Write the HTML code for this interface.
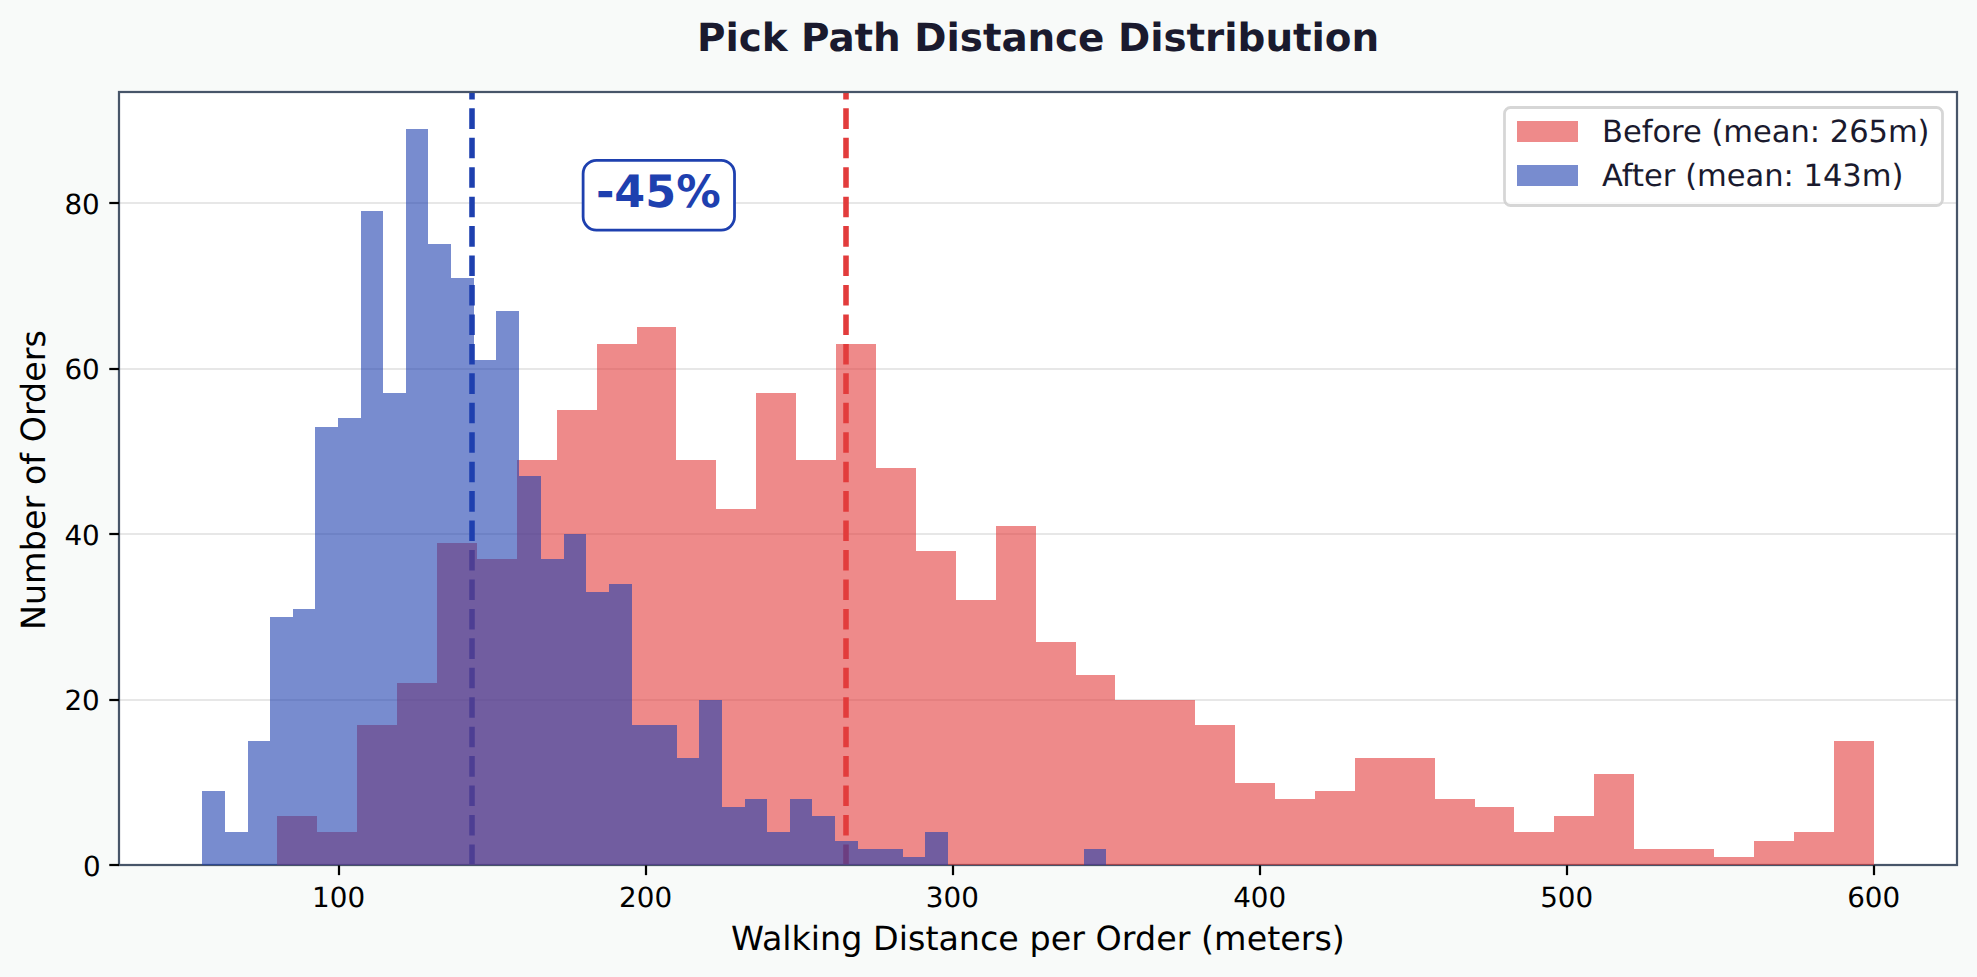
<!DOCTYPE html>
<html lang="en"><head><meta charset="utf-8"><title>Pick Path Distance Distribution</title>
<style>
html,body{margin:0;padding:0;background:#f8faf9;}
body{width:1977px;height:977px;overflow:hidden;}
svg{display:block;font-family:"DejaVu Sans","Liberation Sans",sans-serif;}
text{font-kerning:normal;text-rendering:geometricPrecision;}
</style></head><body>
<svg width="1977" height="977" viewBox="0 0 1977 977">
<rect x="0" y="0" width="1977" height="977" fill="#f8faf9"/>
<rect x="119.0" y="92.0" width="1838.0" height="773.0" fill="#ffffff"/>
<defs><clipPath id="ax"><rect x="119.0" y="92.0" width="1838.0" height="773.0"/></clipPath></defs>

<g stroke="#b0b0b0" stroke-opacity="0.3" stroke-width="2.22">
<line x1="119.0" x2="1957.0" y1="865" y2="865"/>
<line x1="119.0" x2="1957.0" y1="700" y2="700"/>
<line x1="119.0" x2="1957.0" y1="534" y2="534"/>
<line x1="119.0" x2="1957.0" y1="369" y2="369"/>
<line x1="119.0" x2="1957.0" y1="203" y2="203"/>
</g>
<g clip-path="url(#ax)" stroke-width="5.56" stroke-dasharray="20.5556 8.8889" fill="none">
<line x1="472" x2="472" y1="865" y2="82.0" stroke="#1e40af"/>
<line x1="846" x2="846" y1="865" y2="82.0" stroke="#e23c3c"/>
</g>
<rect x="119.0" y="92.0" width="1838.0" height="773.0" fill="none" stroke="#475569" stroke-width="2.22"/>
<path d="M277,865V816H317V832H357V725H397V683H437V543H477V559H517V460H557V410H597V344H637V327H676V460H716V509H756V393H796V460H836V344H876V468H916V551H956V600H996V526H1036V642H1076V675H1115V700H1155V700H1195V725H1235V783H1275V799H1315V791H1355V758H1395V758H1435V799H1475V807H1514V832H1554V816H1594V774H1634V849H1674V849H1714V857H1754V841H1794V832H1834V741H1874V865Z" fill="#e23c3c" fill-opacity="0.6"/>
<path d="M202,865V791H225V832H248V741H270V617H293V609H315V427H338V418H361V211H383V393H406V129H428V244H451V278H474V360H496V311H519V476H541V559H564V534H586V592H609V584H632V725H654V725H677V758H699V700H722V807H745V799H767V832H790V799H812V816H835V841H858V849H880V849H903V857H925V832H948V865H971V865H993V865H1016V865H1038V865H1061V865H1084V849H1106V865Z" fill="#1e40af" fill-opacity="0.6"/>
<g stroke="#000" stroke-width="2.22">
<line x1="339" x2="339" y1="865.42" y2="875.14"/>
<line x1="646" x2="646" y1="865.42" y2="875.14"/>
<line x1="953" x2="953" y1="865.42" y2="875.14"/>
<line x1="1260" x2="1260" y1="865.42" y2="875.14"/>
<line x1="1567" x2="1567" y1="865.42" y2="875.14"/>
<line x1="1874" x2="1874" y1="865.42" y2="875.14"/>
<line x1="119.0" x2="109.28" y1="865" y2="865"/>
<line x1="119.0" x2="109.28" y1="700" y2="700"/>
<line x1="119.0" x2="109.28" y1="534" y2="534"/>
<line x1="119.0" x2="109.28" y1="369" y2="369"/>
<line x1="119.0" x2="109.28" y1="203" y2="203"/>
</g>
<text id="xt100" x="312.09 329.71 347.46" y="907.00" font-size="27.78" fill="#000">100</text>
<text id="xt200" x="619.11 636.73 654.48" y="907.00" font-size="27.78" fill="#000">200</text>
<text id="xt300" x="925.71 943.46 961.21" y="907.00" font-size="27.78" fill="#000">300</text>
<text id="xt400" x="1233.15 1250.77 1268.52" y="907.00" font-size="27.78" fill="#000">400</text>
<text id="xt500" x="1540.17 1557.79 1575.54" y="907.00" font-size="27.78" fill="#000">500</text>
<text id="xt600" x="1847.19 1864.81 1882.56" y="907.00" font-size="27.78" fill="#000">600</text>
<text id="yt0" x="83.06" y="875.92" font-size="27.78" fill="#000">0</text>
<text id="yt20" x="64.44 82.06" y="710.33" font-size="27.78" fill="#000">20</text>
<text id="yt40" x="64.44 82.06" y="544.74" font-size="27.78" fill="#000">40</text>
<text id="yt60" x="64.44 82.06" y="379.14" font-size="27.78" fill="#000">60</text>
<text id="yt80" x="64.44 82.06" y="213.55" font-size="27.78" fill="#000">80</text>
<text id="xlabel" x="731.12 762.00 782.37 791.62 810.87 820.12 841.25 862.50 873.12 898.87 908.12 925.50 938.50 958.87 980.00 998.37 1018.87 1029.49 1050.74 1071.24 1084.99 1095.62 1121.87 1134.99 1156.24 1176.74 1190.49 1201.12 1214.12 1246.74 1267.24 1280.24 1300.74 1314.49 1331.87" y="950.00" font-size="33.33" fill="#000">Walking Distance per Order (meters)</text>
<text id="ylabel" transform="translate(44.50,480.00) rotate(-90)" x="-150.00 -125.00 -103.88 -71.25 -50.00 -29.50 -15.75 -5.12 15.38 27.12 37.75 64.00 77.12 98.38 118.88 132.62" y="0" font-size="33.33" fill="#000">Number of Orders</text>
<text id="title" x="697.00 725.50 738.75 761.75 787.50 801.00 828.50 854.62 873.12 900.75 914.25 946.50 959.75 982.88 1001.38 1027.50 1055.12 1078.12 1104.50 1118.00 1150.25 1163.50 1186.62 1205.12 1224.25 1237.50 1265.38 1293.00 1311.50 1324.75 1351.38" y="51.00" font-size="38.89" font-weight="bold" fill="#1a1a2e">Pick Path Distance Distribution</text>
<rect x="583.11" y="160.43" width="151.41" height="69.66" rx="13.33" ry="13.33" fill="#fff" stroke="#1e40af" stroke-width="2.78"/>
<text id="annot" x="595.94 614.32 645.32 676.19" y="207.00" font-size="44.44" font-weight="bold" fill="#1e40af">-45%</text>
<rect x="1504.5" y="107.5" width="438" height="98" rx="6.1" ry="6.1" fill="#fff" fill-opacity="0.8" stroke="#cccccc" stroke-opacity="0.8" stroke-width="2.78"/>
<rect x="1517" y="121" width="61" height="21" fill="#e23c3c" fill-opacity="0.6"/>
<rect x="1517" y="165" width="61" height="21" fill="#1e40af" fill-opacity="0.6"/>
<text id="leg1" x="1602.12 1622.99 1641.74 1652.49 1670.99 1682.99 1701.74 1711.49 1723.37 1752.99 1771.74 1790.49 1809.87 1820.12 1829.87 1849.24 1868.62 1887.99 1917.62" y="141.55" font-size="30.56" fill="#1a1a2e">Before (mean: 265m)</text>
<text id="leg2" x="1602.12 1621.87 1632.12 1644.12 1662.87 1675.49 1685.24 1697.12 1726.74 1745.49 1764.24 1783.62 1793.87 1803.62 1822.99 1842.37 1861.87 1891.49" y="185.55" font-size="30.56" fill="#1a1a2e">After (mean: 143m)</text>
</svg></body></html>
